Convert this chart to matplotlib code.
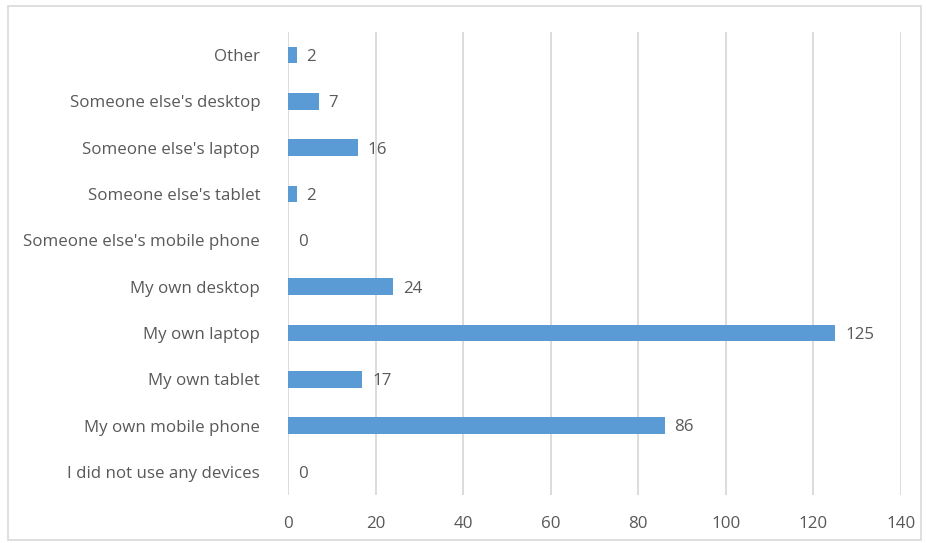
import matplotlib
matplotlib.use("Agg")
from matplotlib import pyplot as plt
from matplotlib.patches import Rectangle

categories = [
    "I did not use any devices",
    "My own mobile phone",
    "My own tablet",
    "My own laptop",
    "My own desktop",
    "Someone else's mobile phone",
    "Someone else's tablet",
    "Someone else's laptop",
    "Someone else's desktop",
    "Other",
]
counts = [0, 86, 17, 125, 24, 0, 2, 16, 7, 2]
xticks = [0, 20, 40, 60, 80, 100, 120, 140]

plt.rcParams["font.family"] = ["Open Sans", "DejaVu Sans"]
text_color = "#595959"
grid_color = "#d9d9d9"
fs = 12.2

fig = plt.figure(figsize=(9.26, 5.43), dpi=100)
ax = fig.add_axes([288 / 926, 1 - 495 / 543, (901 - 288) / 926, (495 - 32) / 543])

ypos = list(range(len(categories)))
ax.barh(ypos, counts, height=0.36, color="#5b9bd5", zorder=3)

for y, v in zip(ypos, counts):
    ax.text(v + 2.2, y - 0.04, str(v), va="center", ha="left", fontsize=fs, color=text_color)

ax.set_xlim(0, 140)
ax.set_ylim(-0.5, len(categories) - 0.5)
ax.set_xticks(xticks)
ax.set_xticklabels([str(t) for t in xticks])
ax.set_yticks(ypos)
ax.set_yticklabels(categories)
ax.tick_params(axis="both", length=0, labelsize=fs, labelcolor=text_color)
ax.tick_params(axis="x", pad=15)
ax.tick_params(axis="y", pad=20)
ax.grid(axis="x", color=grid_color, linewidth=1.3, zorder=0)
for s in ax.spines.values():
    s.set_visible(False)

fig.patches.append(Rectangle((8 / 926, 3 / 543), 913 / 926, 534 / 543, transform=fig.transFigure,
                             fill=False, edgecolor="#d9d9d9", linewidth=1.2))

fig.savefig("out.png", dpi=100)
